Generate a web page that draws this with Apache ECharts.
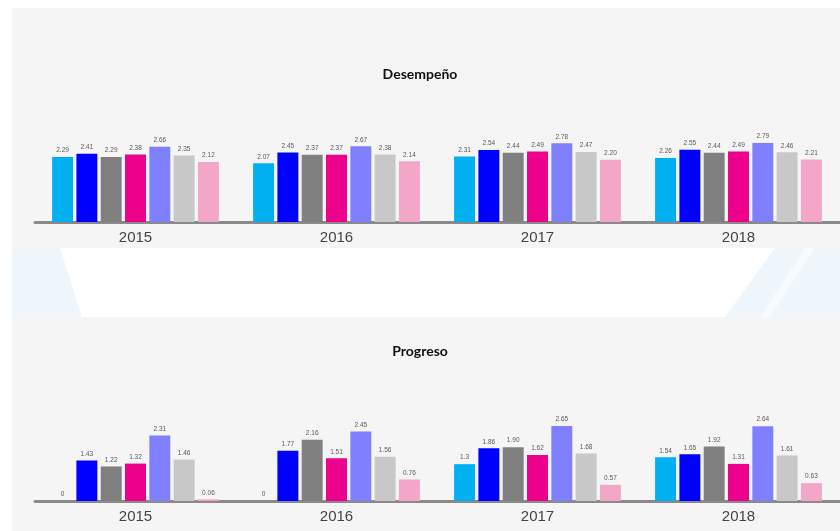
<!DOCTYPE html>
<html>
<head>
<meta charset="utf-8">
<script src="https://cdn.jsdelivr.net/npm/echarts@6/dist/echarts.min.js"></script>
<style>html,body{margin:0;padding:0;background:#fff;}#c{width:840px;height:531px;}</style>
</head>
<body>
<div id="c"></div>
<script>
var years = ['2015', '2016', '2017', '2018'];
var colors = ['#00b0f0', '#0000ff', '#808080', '#ec008c', '#8080ff', '#c8c8c8', '#f4a6c8'];
// Desempeño: one array per bar colour, values per year
var des1 = [2.29, 2.07, 2.31, 2.26];
var des2 = [2.41, 2.45, 2.54, 2.55];
var des3 = [2.29, 2.37, 2.44, 2.44];
var des4 = [2.38, 2.37, 2.49, 2.49];
var des5 = [2.66, 2.67, 2.78, 2.79];
var des6 = [2.35, 2.38, 2.47, 2.46];
var des7 = [2.12, 2.14, 2.20, 2.21];
// Progreso
var pro1 = [0, 0, 1.3, 1.54];
var pro2 = [1.43, 1.77, 1.86, 1.65];
var pro3 = [1.22, 2.16, 1.90, 1.92];
var pro4 = [1.32, 1.51, 1.62, 1.31];
var pro5 = [2.31, 2.45, 2.65, 2.64];
var pro6 = [1.46, 1.56, 1.68, 1.61];
var pro7 = [0.06, 0.76, 0.57, 0.63];

var desSeries = [des1, des2, des3, des4, des5, des6, des7];
var proSeries = [pro1, pro2, pro3, pro4, pro5, pro6, pro7];

var chart = echarts.init(document.getElementById('c'), null, {renderer: 'canvas'});

function fmt(v) {
  if (v === 0) return '0';
  if (v === 1.3) return '1.3';
  return v.toFixed(2);
}

function mkSeries(arr, gi) {
  return arr.map(function (d, i) {
    return {
      type: 'bar', xAxisIndex: gi, yAxisIndex: gi, data: d,
      barGap: '16%', barCategoryGap: '17%',
      itemStyle: {color: colors[i]},
      label: {show: true, position: 'top', distance: 3, fontSize: 6.5, color: '#5a5a5a',
        fontFamily: 'Liberation Sans', formatter: function (p) { return fmt(p.value); }}
    };
  });
}

var xAx = function (gi) {
  return {
    type: 'category', gridIndex: gi, data: years,
    axisLine: {lineStyle: {color: '#8a8a8a', width: 3}},
    axisTick: {show: false},
    axisLabel: {fontSize: 15, color: '#444', margin: 8, fontFamily: 'Liberation Sans Narrow, Liberation Sans, sans-serif'}
  };
};
var yAx = function (gi) {
  return {type: 'value', gridIndex: gi, min: 0, max: 3, show: false, splitLine: {show: false}};
};

chart.setOption({
  backgroundColor: '#ffffff',
  animation: false,
  graphic: [
    {type: 'rect', z: -10, shape: {x: 12, y: 8, width: 828, height: 240}, style: {fill: '#f5f5f5'}},
    {type: 'rect', z: -10, shape: {x: 12, y: 317, width: 828, height: 214}, style: {fill: '#f5f5f5'}},
    {type: 'polygon', z: -9, shape: {points: [[12, 248], [60, 248], [82, 317], [12, 317]]}, style: {fill: '#eef5fb'}},
    {type: 'polygon', z: -9, shape: {points: [[775, 248], [840, 248], [840, 317], [725, 317]]}, style: {fill: '#eef5fb'}},
    {type: 'polygon', z: -8, shape: {points: [[805, 248], [815, 248], [770, 317], [760, 317]]}, style: {fill: '#f8fbfe'}}
  ],
  title: [
    {text: 'Desempeño', left: 'center', top: 62, textStyle: {fontSize: 14, fontWeight: 'bold', color: '#111', fontFamily: 'Lato, sans-serif'}},
    {text: 'Progreso', left: 'center', top: 339, textStyle: {fontSize: 14, fontWeight: 'bold', color: '#111', fontFamily: 'Lato, sans-serif'}}
  ],
  grid: [
    {left: 35, right: 1, top: 137, bottom: 309},
    {left: 35, right: 1, top: 416, bottom: 30}
  ],
  xAxis: [xAx(0), xAx(1)],
  yAxis: [yAx(0), yAx(1)],
  series: mkSeries(desSeries, 0).concat(mkSeries(proSeries, 1))
});
</script>
</body>
</html>
